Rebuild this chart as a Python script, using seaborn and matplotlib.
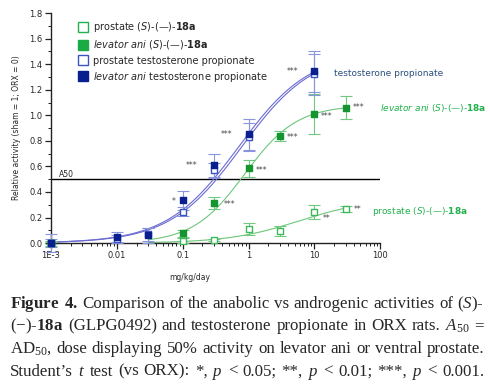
import matplotlib
matplotlib.use("Agg")
import matplotlib.pyplot as plt
from matplotlib.lines import Line2D
from matplotlib.ticker import FixedLocator, LogLocator, MultipleLocator, NullFormatter
import numpy as np
import pandas as pd
import seaborn as sns

# dose (mg/kg/day) and relative activity
TP_LEV_DOSE = [0.001, 0.01, 0.03, 0.1, 0.3, 1, 10]
TP_LEV_MEAN = [0.0, 0.05, 0.06, 0.335, 0.61, 0.85, 1.345]
TP_LEV_ERR = [0.07, 0.04, 0.06, 0.075, 0.09, 0.12, 0.16]

TP_PRO_DOSE = [0.001, 0.01, 0.03, 0.1, 0.3, 1, 10]
TP_PRO_MEAN = [0.0, 0.03, 0.07, 0.245, 0.57, 0.83, 1.32]
TP_PRO_ERR = [0.03, 0.03, 0.05, 0.035, 0.06, 0.11, 0.16]

S18_LEV_DOSE = [0.001, 0.1, 0.3, 1, 3, 10, 30]
S18_LEV_MEAN = [0.0, 0.075, 0.315, 0.585, 0.84, 1.01, 1.06]
S18_LEV_ERR = [0.02, 0.025, 0.045, 0.065, 0.04, 0.16, 0.09]

S18_PRO_DOSE = [0.001, 0.1, 0.3, 1, 3, 10, 30]
S18_PRO_MEAN = [0.0, 0.02, 0.025, 0.11, 0.095, 0.24, 0.265]
S18_PRO_ERR = [0.01, 0.02, 0.01, 0.05, 0.04, 0.055, 0.025]

# fitted dose-response curves (top, ED50, hill slope, dose range)
FITS = {
    "tp_lev": (1.5, 0.70, 0.80, 0.001, 10),
    "tp_pro": (1.5, 0.78, 0.80, 0.001, 10),
    "s18_lev": (1.08, 0.874, 1.10, 0.03, 30),
    "s18_pro": (0.35, 6.0, 0.80, 0.03, 30),
}

# significance stars: (text, dose, activity)
STARS = [
    ("***", 4.6, 1.345), ("***", 0.46, 0.85), ("***", 0.135, 0.61),
    ("*", 0.072, 0.325), ("***", 0.52, 0.30), ("***", 1.55, 0.57),
    ("***", 4.6, 0.83), ("***", 15.5, 0.99), ("***", 47, 1.06),
    ("**", 15.5, 0.19), ("**", 45, 0.265),
]

XTICKS = [0.001, 0.01, 0.1, 1, 10, 100]
XTICK_LABELS = ["1E-3", "0.01", "0.1", "1", "10", "100"]

NAVY = "#0a1f8f"
BLUE_OPEN = "#3b55c0"
BLUE_LINE = "#6a6ad2"
BLUE_ERR = "#8a94dc"
GREEN = "#15952f"
GREEN_OPEN = "#3fb85a"
GREEN_LINE = "#6cc77a"
GREEN_ERR = "#72c882"
GREEN_TEXT = "#22b14c"

sns.set_style("ticks")
plt.rcParams["font.family"] = ["DejaVu Sans"]
plt.rcParams["mathtext.fontset"] = "custom"
plt.rcParams["mathtext.rm"] = "Liberation Serif"
plt.rcParams["mathtext.it"] = "Liberation Serif:italic"
plt.rcParams["mathtext.bf"] = "Liberation Serif:bold"

fig = plt.figure(figsize=(4.9, 3.84), dpi=100)
ax = fig.add_axes([0.104, 0.367, 0.672, 0.599])

# curves
curve_frames = []
for name, (top, ed50, hill, lo, hi) in FITS.items():
    x = np.logspace(np.log10(lo), np.log10(hi), 200)
    curve_frames.append(pd.DataFrame({"dose": x, "act": top * x**hill / (x**hill + ed50**hill), "fit": name}))
curves = pd.concat(curve_frames, ignore_index=True)
sns.lineplot(
    data=curves, x="dose", y="act", hue="fit", ax=ax, legend=False, linewidth=0.8,
    palette={"tp_lev": BLUE_LINE, "tp_pro": BLUE_LINE, "s18_lev": GREEN_LINE, "s18_pro": GREEN_LINE},
)

ax.axhline(0.5, color="black", linewidth=1.0, zorder=1)
ax.text(0.0013, 0.515, "A50", fontsize=5.5, color="#222222")

series = [
    (S18_PRO_DOSE, S18_PRO_MEAN, S18_PRO_ERR, GREEN_ERR, "white", GREEN_OPEN),
    (S18_LEV_DOSE, S18_LEV_MEAN, S18_LEV_ERR, GREEN_ERR, GREEN, GREEN),
    (TP_PRO_DOSE, TP_PRO_MEAN, TP_PRO_ERR, BLUE_ERR, "white", BLUE_OPEN),
    (TP_LEV_DOSE, TP_LEV_MEAN, TP_LEV_ERR, BLUE_ERR, NAVY, NAVY),
]
for dose, mean, err, ecol, face, edge in series:
    ax.errorbar(dose, mean, yerr=err, fmt="none", ecolor=ecol, elinewidth=0.8,
                capsize=4, capthick=0.8, clip_on=False, zorder=3)
    sns.scatterplot(x=dose, y=mean, ax=ax, marker="s", s=22, color=face,
                    edgecolor=edge, linewidth=1.0, zorder=4, clip_on=False)

for txt, xd, yv in STARS:
    ax.text(xd, yv, txt, fontsize=5.5, color="#444444", ha="center", va="center")

ax.set_xscale("log")
ax.set_xlim(0.001, 100)
ax.set_ylim(0, 1.8)
ax.xaxis.set_major_locator(FixedLocator(XTICKS))
ax.set_xticklabels(XTICK_LABELS)
ax.xaxis.set_minor_locator(LogLocator(base=10, subs=np.arange(2, 10)))
ax.xaxis.set_minor_formatter(NullFormatter())
ax.yaxis.set_major_locator(MultipleLocator(0.2))
ax.yaxis.set_minor_locator(MultipleLocator(0.1))
ax.set_yticklabels([f"{v:.1f}" for v in ax.get_yticks()])
ax.tick_params(which="major", length=4, width=0.9, labelsize=6, pad=2, color="#222222")
ax.tick_params(which="minor", length=2, width=0.7, color="#222222")
sns.despine(ax=ax)
for side in ("left", "bottom"):
    ax.spines[side].set_linewidth(1.0)
    ax.spines[side].set_color("#222222")

ax.set_xlabel("mg/kg/day", fontsize=5.5)
ax.xaxis.set_label_coords(0.42, -0.13)
ax.set_ylabel("Relative activity (sham = 1; ORX = 0)", fontsize=5.5, labelpad=6)

handles = [
    Line2D([], [], marker="s", linestyle="none", markersize=7.5, markerfacecolor="white",
           markeredgecolor=GREEN_TEXT, markeredgewidth=1.0),
    Line2D([], [], marker="s", linestyle="none", markersize=7.5, markerfacecolor="#1aab45",
           markeredgecolor="#1aab45"),
    Line2D([], [], marker="s", linestyle="none", markersize=7.5, markerfacecolor="white",
           markeredgecolor="#3b55c0", markeredgewidth=1.0),
    Line2D([], [], marker="s", linestyle="none", markersize=7.5, markerfacecolor=NAVY,
           markeredgecolor=NAVY),
]
labels = [
    r"prostate ($\mathit{S}$)-(—)-$\mathbf{18a}$",
    r"$\mathit{levator\ ani}$ ($\mathit{S}$)-(—)-$\mathbf{18a}$",
    "prostate testosterone propionate",
    r"$\mathit{levator\ ani}$ testosterone propionate",
]
leg = ax.legend(handles, labels, loc="upper left", bbox_to_anchor=(0.082, 0.968), frameon=False,
                fontsize=7, handlelength=1.0, handletextpad=0.55, labelspacing=0.42,
                borderaxespad=0, borderpad=0)
for t in leg.get_texts():
    t.set_math_fontfamily("dejavusans")

t = ax.text(20, 1.33, "testosterone propionate", fontsize=6.5, color="#2b4f7e",
            va="center", clip_on=False)
t = ax.text(100, 1.06, r"$\mathit{levator\ ani}$ ($\mathit{S}$)-(—)-$\mathbf{18a}$",
            fontsize=6.5, color=GREEN_TEXT, va="center", clip_on=False)
t.set_math_fontfamily("dejavusans")
t = ax.text(75, 0.25, r"prostate ($\mathit{S}$)-(—)-$\mathbf{18a}$", fontsize=6.5,
            color=GREEN_TEXT, va="center", clip_on=False)
t.set_math_fontfamily("dejavusans")

# caption, justified between left and right margins
CAPTION_LINES = [
    [r"$\mathbf{Figure}$", r"$\mathbf{4.}$", "Comparison", "of", "the", "anabolic", "vs",
     "androgenic", "activities", "of", r"($\mathit{S}$)-"],
    ["(−)-$\\mathbf{18a}$", "(GLPG0492)", "and", "testosterone", "propionate", "in", "ORX",
     "rats.", r"$\mathit{A}_{50}$", "="],
    [r"$\mathrm{AD}_{50}$,", "dose", "displaying", "50%", "activity", "on", "levator", "ani",
     "or", "ventral", "prostate."],
    ["Student’s", r"$\mathit{t}$", "test", "(vs", "ORX):", "*,", r"$\mathit{p}$", "<", "0.05;",
     "**,", r"$\mathit{p}$", "<", "0.01;", "***,", r"$\mathit{p}$", "<", "0.001."],
]
CAPTION_BASELINES = [308, 330.5, 353, 375.5]
left_px, right_px = 10, 484
W, H = 490, 384
renderer = fig.canvas.get_renderer()
for words, base in zip(CAPTION_LINES, CAPTION_BASELINES):
    texts = [fig.text(0, 1 - base / H, w, fontsize=12.2, family="Liberation Serif",
                      va="baseline", ha="left") for w in words]
    widths = [tx.get_window_extent(renderer).width for tx in texts]
    gap = (right_px - left_px - sum(widths)) / (len(words) - 1)
    x = left_px
    for tx, w in zip(texts, widths):
        tx.set_x(x / W)
        x += w + gap

fig.savefig("out.png", dpi=100)
